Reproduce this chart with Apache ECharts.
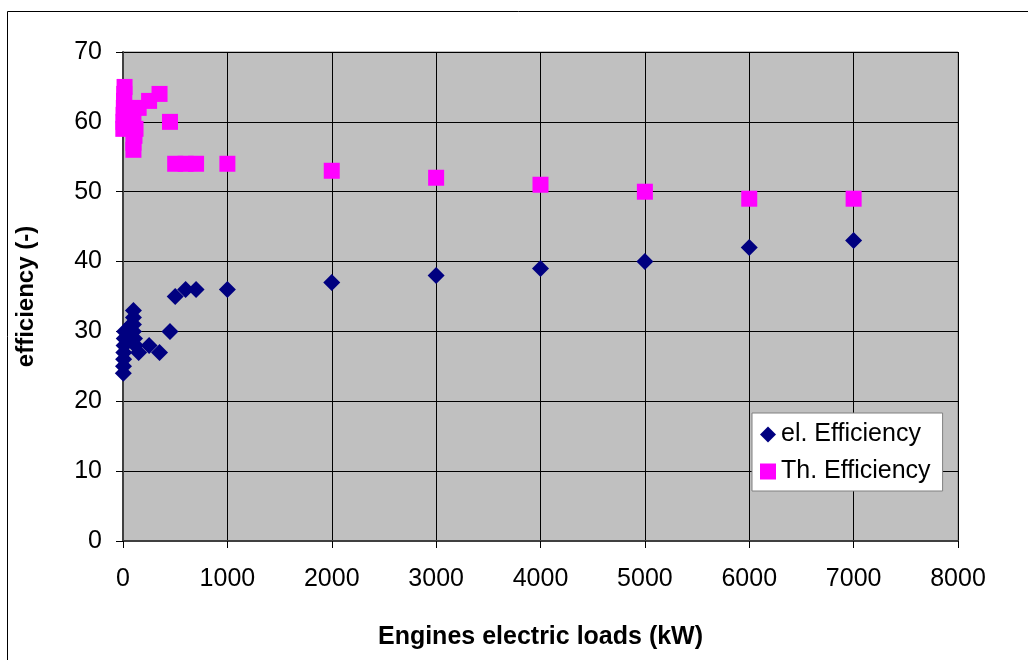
<!DOCTYPE html>
<html>
<head>
<meta charset="utf-8">
<script src="https://cdn.jsdelivr.net/npm/echarts@6/dist/echarts.min.js"></script>
<style>
  html, body { margin: 0; padding: 0; background: #ffffff; }
  #chart { width: 1028px; height: 660px; }
</style>
</head>
<body>
<div id="chart"></div>
<script>
// Electrical efficiency of engines vs. electric load
const elLoads = [3, 5, 6, 8, 10, 12, 15, 50, 60, 80, 100, 100, 100, 100, 110, 120, 150, 250, 350, 450, 500, 600, 700, 1000, 2000, 3000, 4000, 5000, 6000, 7000];
const elEff   = [24, 25, 26, 27, 28, 29, 30, 29, 30, 31, 33, 32, 31, 30, 29, 28, 27, 28, 27, 30, 35, 36, 36, 36, 37, 38, 39, 40, 42, 43];

// Thermal efficiency of engines vs. electric load
const thLoads = [3, 5, 6, 8, 10, 12, 15, 100, 100, 110, 120, 100, 150, 250, 350, 450, 500, 600, 700, 1000, 2000, 3000, 4000, 5000, 6000, 7000];
const thEff   = [59, 60, 61, 62, 63, 64, 65, 56, 57, 58, 59, 61, 62, 63, 64, 60, 54, 54, 54, 54, 53, 52, 51, 50, 49, 49];

const seriesNames = ['el. Efficiency', 'Th. Efficiency'];
const xTitle = 'Engines electric loads (kW)';
const yTitle = 'efficiency (-)';

const pair = (xs, ys) => xs.map((x, i) => [x, ys[i]]);

const font = 'Liberation Sans, Arial, sans-serif';
const chart = echarts.init(document.getElementById('chart'), null, { renderer: 'canvas' });

chart.setOption({
  animation: false,
  backgroundColor: '#ffffff',
  graphic: [{
    type: 'rect',
    left: 5, top: 9,
    shape: { width: 1040, height: 680 },
    style: { fill: 'none', stroke: '#000000', lineWidth: 1 },
    z: -1
  }],
  grid: {
    left: 123, top: 52, width: 835, height: 489,
    show: true,
    backgroundColor: '#C0C0C0',
    borderColor: '#808080',
    borderWidth: 1
  },
  legend: {
    orient: 'vertical',
    left: 752, top: 413,
    backgroundColor: '#ffffff',
    borderColor: '#808080',
    borderWidth: 1,
    padding: [9, 12, 7, 8],
    itemGap: 12,
    itemWidth: 16, itemHeight: 16,
    textStyle: { fontFamily: font, fontSize: 25, color: '#000000' },
    data: [
      { name: seriesNames[0], icon: 'diamond' },
      { name: seriesNames[1], icon: 'rect' }
    ]
  },
  xAxis: {
    type: 'value',
    min: 0, max: 8000, interval: 1000,
    name: xTitle,
    nameLocation: 'middle',
    nameGap: 84,
    nameTextStyle: { fontFamily: font, fontSize: 25, fontWeight: 'bold', color: '#000000' },
    axisLine: { show: true, onZero: false, lineStyle: { color: '#404040', width: 2 } },
    axisTick: { show: true, length: 7, lineStyle: { color: '#000000' } },
    axisLabel: { fontFamily: font, fontSize: 25, color: '#000000', margin: 26, formatter: v => String(v) },
    splitLine: { show: true, lineStyle: { color: '#000000', width: 1 } }
  },
  yAxis: {
    type: 'value',
    min: 0, max: 70, interval: 10,
    name: yTitle,
    nameLocation: 'middle',
    nameGap: 85,
    nameRotate: 90,
    nameTextStyle: { fontFamily: font, fontSize: 24, fontWeight: 'bold', color: '#000000' },
    axisLine: { show: true, onZero: false, lineStyle: { color: '#404040', width: 2 } },
    axisTick: { show: true, length: 7, lineStyle: { color: '#000000' } },
    axisLabel: { fontFamily: font, fontSize: 25, color: '#000000', margin: 21, formatter: v => String(v) },
    splitLine: { show: true, lineStyle: { color: '#000000', width: 1 } }
  },
  series: [
    {
      name: seriesNames[0],
      type: 'scatter',
      symbol: 'diamond',
      symbolSize: 17,
      itemStyle: { color: '#000080', opacity: 1 },
      data: pair(elLoads, elEff)
    },
    {
      name: seriesNames[1],
      type: 'scatter',
      symbol: 'rect',
      symbolSize: 16,
      itemStyle: { color: '#FF00FF', opacity: 1 },
      data: pair(thLoads, thEff)
    }
  ]
});
</script>
</body>
</html>
